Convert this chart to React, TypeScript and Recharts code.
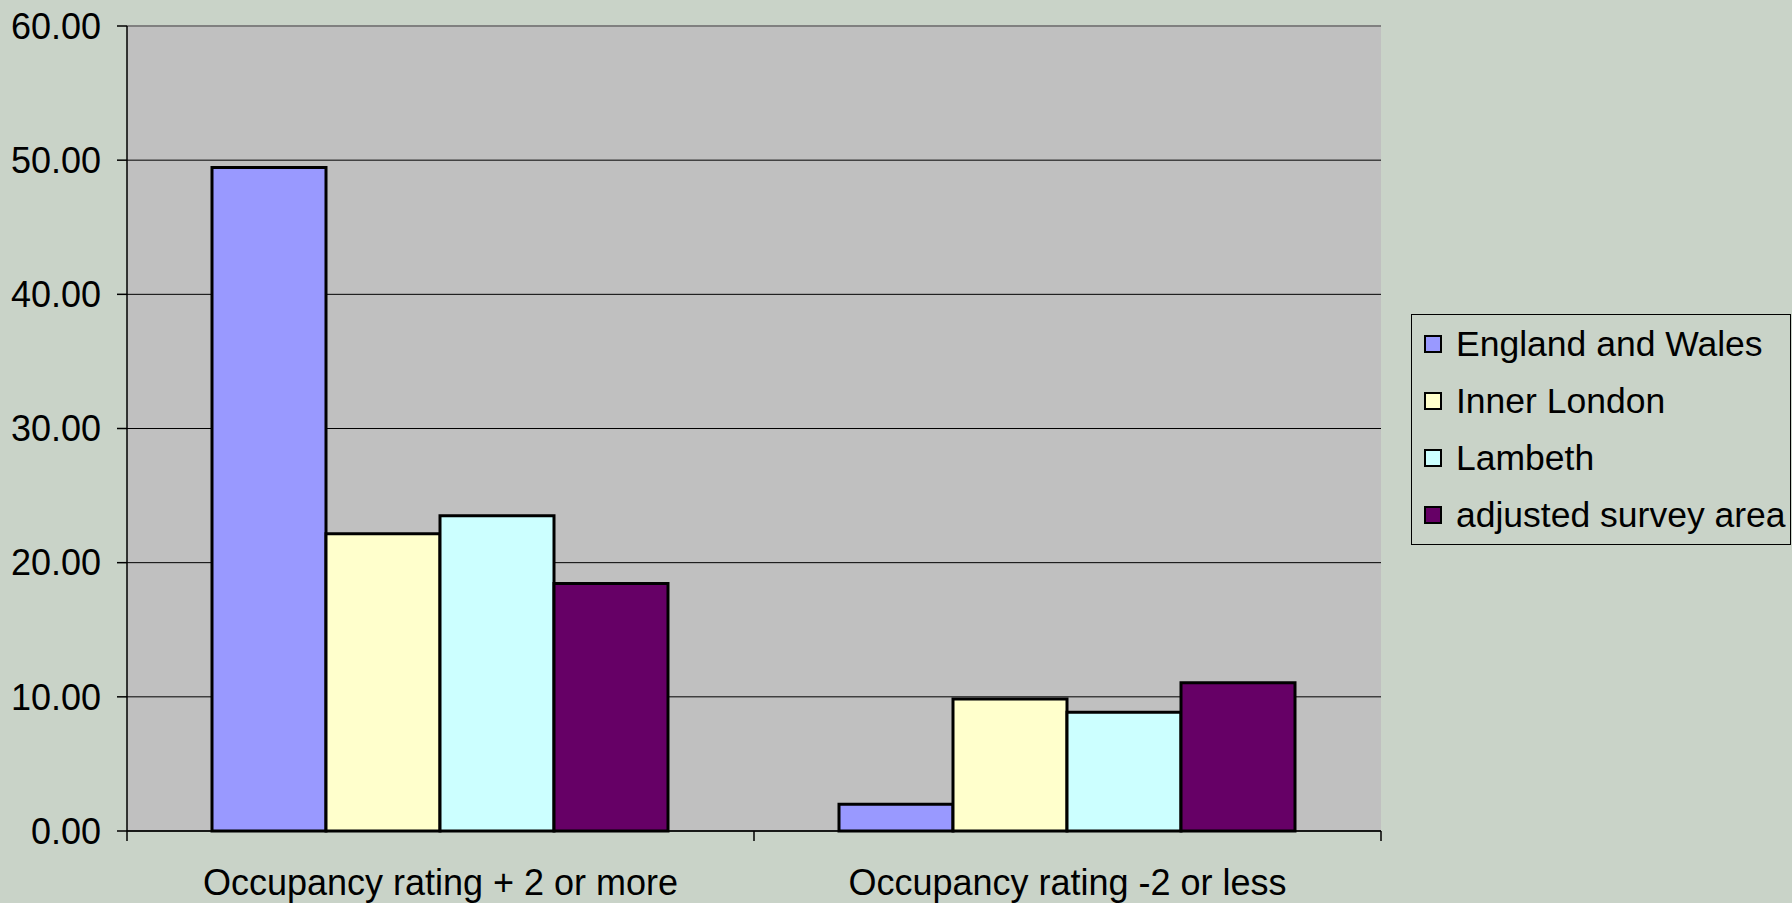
import React from 'react';
import { BarChart, Bar, XAxis, YAxis, CartesianGrid, ReferenceLine } from 'recharts';

const categories = ['Occupancy rating + 2 or more', 'Occupancy rating -2 or less'];
const englandWales = [49.45, 2.0];
const innerLondon = [22.15, 9.83];
const lambeth = [23.5, 8.85];
const adjustedSurvey = [18.45, 11.05];
const yTicks = [0, 10, 20, 30, 40, 50, 60];

const series = [
  { key: 'ew', name: 'England and Wales', values: englandWales, color: '#9999FF' },
  { key: 'il', name: 'Inner London', values: innerLondon, color: '#FFFFCC' },
  { key: 'lb', name: 'Lambeth', values: lambeth, color: '#CCFFFF' },
  { key: 'as', name: 'adjusted survey area', values: adjustedSurvey, color: '#660066' },
];

const data = categories.map((c, i) => {
  const row: Record<string, string | number> = { category: c };
  series.forEach(s => (row[s.key] = s.values[i]));
  return row;
});

const W = 1792;
const H = 903;
const PLOT_LEFT = 127;
const PLOT_RIGHT = 1381;
const PLOT_TOP = 26;
const PLOT_BOTTOM = 831;
const FONT = '"Liberation Sans", Arial, sans-serif';
const BG = '#C9D3C8';

// Excel puts the tick marks between categories, label in the middle
const XTick = (props: any) => {
  const { x, y, payload, index } = props;
  const half = (PLOT_RIGHT - PLOT_LEFT) / categories.length / 2;
  return (
    <g>
      <line x1={x - half} x2={x - half} y1={y} y2={y + 10} stroke="#000" strokeWidth={1.5} />
      {index === categories.length - 1 && (
        <line x1={x + half} x2={x + half} y1={y} y2={y + 10} stroke="#000" strokeWidth={1.5} />
      )}
      <text x={x} y={y + 64} textAnchor="middle" fontSize={36} fontFamily={FONT} fill="#000">
        {payload.value}
      </text>
    </g>
  );
};

export default function App() {
  return (
    <div style={{ position: 'absolute', left: 0, top: 0, width: W, height: H, background: BG, fontFamily: FONT }}>
      <BarChart
        width={W}
        height={H}
        data={data}
        margin={{ top: PLOT_TOP, right: W - PLOT_RIGHT, bottom: 0, left: 0 }}
        barCategoryGap={85}
        barGap={0}
      >
        <CartesianGrid vertical={false} fill="#C0C0C0" stroke="#000" strokeWidth={1} />
        <XAxis
          dataKey="category"
          height={H - PLOT_BOTTOM}
          tickLine={false}
          tickSize={0}
          tickMargin={0}
          axisLine={{ stroke: '#000', strokeWidth: 1.5 }}
          tick={<XTick />}
          interval={0}
        />
        <YAxis
          width={PLOT_LEFT}
          domain={[0, 60]}
          ticks={yTicks}
          interval={0}
          tickFormatter={(v: number) => v.toFixed(2)}
          tickSize={10}
          tickMargin={16}
          tickLine={{ stroke: '#000', strokeWidth: 1.5 }}
          axisLine={{ stroke: '#000', strokeWidth: 1.5 }}
          tick={{ fontSize: 36, fontFamily: FONT, fill: '#000' }}
        />
        <YAxis
          yAxisId="r"
          orientation="right"
          width={0}
          tick={false}
          tickLine={false}
          axisLine={{ stroke: '#808080', strokeWidth: 2 }}
        />
        <ReferenceLine y={60} stroke="#808080" strokeWidth={2} />
        {series.map(s => (
          <Bar
            key={s.key}
            dataKey={s.key}
            name={s.name}
            fill={s.color}
            stroke="#000"
            strokeWidth={3}
            isAnimationActive={false}
          />
        ))}
      </BarChart>
      <div
        style={{
          position: 'absolute',
          left: 1411,
          top: 314,
          width: 380,
          height: 231,
          boxSizing: 'border-box',
          border: '1.5px solid #000',
          background: BG,
        }}
      >
        {series.map((s, i) => (
          <div
            key={s.key}
            style={{
              position: 'absolute',
              left: 12,
              top: 29 + i * 57 - 20,
              height: 40,
              display: 'flex',
              alignItems: 'center',
              whiteSpace: 'nowrap',
            }}
          >
            <span
              style={{
                display: 'inline-block',
                width: 18,
                height: 18,
                boxSizing: 'border-box',
                border: '2.5px solid #000',
                background: s.color,
                marginRight: 14,
              }}
            />
            <span style={{ fontSize: 35.5, color: '#000', lineHeight: '40px' }}>{s.name}</span>
          </div>
        ))}
      </div>
    </div>
  );
}
